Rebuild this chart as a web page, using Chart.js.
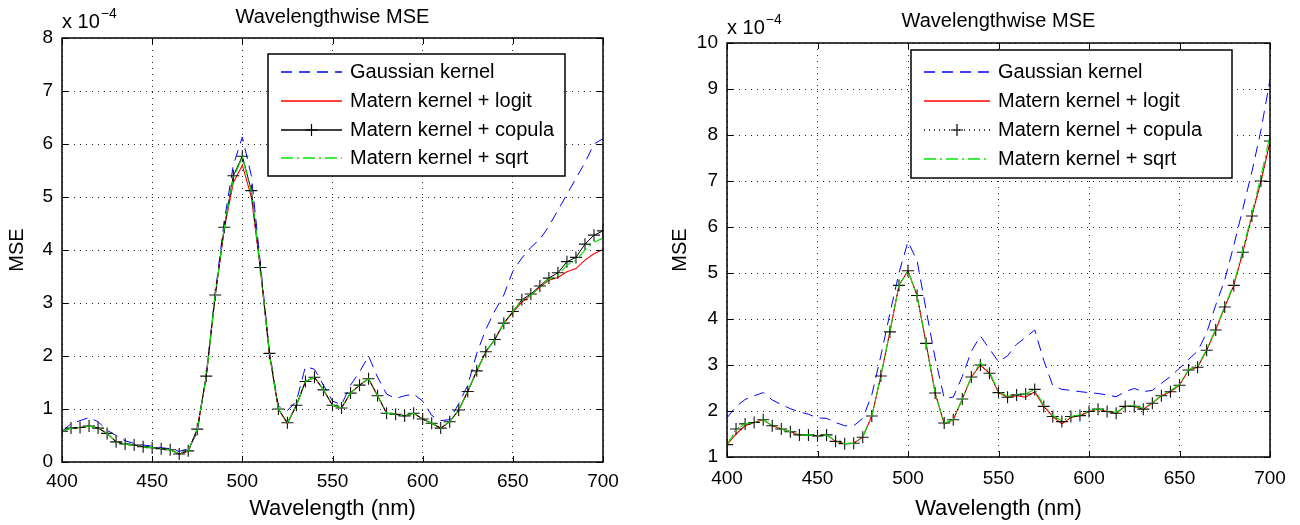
<!DOCTYPE html>
<html><head><meta charset="utf-8">
<script src="https://cdn.jsdelivr.net/npm/chart.js@4"></script>
<style>
body{margin:0;background:#fff;width:1300px;height:525px;overflow:hidden;position:relative}
canvas{position:absolute;top:0}
</style></head>
<body>
<canvas id="c1" width="650" height="525" style="left:0"></canvas>
<canvas id="c2" width="650" height="525" style="left:650px"></canvas>
<script>
// ---------- DATA (MSE in units of 1e-4) ----------
const wavelengths = [400,405,410,415,420,425,430,435,440,445,450,455,460,465,470,475,480,485,490,495,500,505,510,515,520,525,530,535,540,545,550,555,560,565,570,575,580,585,590,595,600,605,610,615,620,625,630,635,640,645,650,655,660,665,670,675,680,685,690,695,700];

const leftGaussian = [0.58,0.72,0.78,0.84,0.76,0.60,0.50,0.40,0.35,0.32,0.30,0.27,0.25,0.20,0.25,0.55,1.65,3.20,4.55,5.60,6.13,5.40,3.75,2.10,1.05,0.97,1.15,1.80,1.75,1.45,1.15,1.08,1.45,1.70,2.00,1.60,1.28,1.20,1.25,1.28,1.15,0.88,0.78,0.80,1.10,1.45,2.05,2.50,2.85,3.15,3.60,3.85,4.05,4.20,4.45,4.75,5.05,5.35,5.65,6.00,6.10];
const leftLogit    = [0.58,0.64,0.65,0.68,0.64,0.54,0.38,0.34,0.32,0.29,0.27,0.25,0.23,0.15,0.20,0.62,1.62,3.15,4.40,5.27,5.60,5.00,3.64,2.05,1.00,0.72,1.07,1.52,1.60,1.36,1.07,1.02,1.30,1.45,1.57,1.25,0.92,0.90,0.87,0.92,0.81,0.73,0.64,0.76,0.98,1.33,1.72,2.08,2.31,2.62,2.82,3.02,3.15,3.30,3.43,3.48,3.59,3.65,3.81,3.93,4.01];
const leftCopula   = [0.58,0.64,0.65,0.68,0.64,0.54,0.38,0.34,0.32,0.29,0.27,0.25,0.23,0.15,0.21,0.62,1.62,3.15,4.43,5.40,5.77,5.12,3.67,2.05,1.00,0.74,1.07,1.52,1.60,1.36,1.07,1.02,1.30,1.45,1.57,1.25,0.92,0.90,0.87,0.92,0.81,0.73,0.64,0.76,0.98,1.33,1.72,2.08,2.31,2.62,2.84,3.06,3.17,3.32,3.47,3.57,3.78,3.86,4.11,4.28,4.36];
const leftSqrt     = [0.58,0.64,0.65,0.68,0.64,0.54,0.38,0.34,0.32,0.29,0.27,0.25,0.23,0.15,0.21,0.62,1.62,3.15,4.43,5.35,5.75,5.10,3.66,2.05,1.00,0.74,1.07,1.52,1.60,1.36,1.07,1.02,1.30,1.45,1.57,1.25,0.92,0.90,0.87,0.92,0.81,0.73,0.64,0.76,0.98,1.33,1.72,2.08,2.31,2.62,2.84,3.05,3.15,3.30,3.45,3.52,3.72,3.80,4.00,4.15,4.22];

const rightGaussian = [1.85,2.10,2.25,2.33,2.40,2.24,2.14,2.05,1.98,1.93,1.85,1.84,1.75,1.68,1.68,1.84,2.35,3.20,4.12,5.00,5.68,5.27,4.20,3.15,2.28,2.30,2.75,3.30,3.63,3.35,3.07,3.20,3.45,3.60,3.76,3.10,2.55,2.47,2.45,2.42,2.40,2.38,2.35,2.31,2.42,2.49,2.42,2.45,2.60,2.75,2.93,3.12,3.30,3.70,4.30,4.85,5.60,6.40,7.20,8.10,9.20];
const rightLogit    = [1.27,1.50,1.68,1.75,1.81,1.68,1.61,1.55,1.48,1.48,1.46,1.48,1.34,1.29,1.30,1.43,1.89,2.76,3.72,4.73,5.05,4.51,3.47,2.39,1.72,1.81,2.26,2.74,3.00,2.82,2.40,2.30,2.33,2.30,2.42,2.10,1.88,1.72,1.86,1.90,1.99,2.04,1.99,1.95,2.10,2.10,2.04,2.17,2.33,2.42,2.56,2.89,2.95,3.32,3.76,4.26,4.73,5.45,6.24,7.00,7.85];
const rightCopula   = [1.27,1.61,1.72,1.75,1.81,1.68,1.61,1.55,1.48,1.48,1.46,1.48,1.34,1.29,1.30,1.43,1.89,2.76,3.72,4.73,5.05,4.51,3.47,2.39,1.74,1.81,2.26,2.74,3.00,2.82,2.40,2.30,2.35,2.37,2.47,2.10,1.88,1.77,1.88,1.90,1.99,2.04,1.99,1.95,2.10,2.10,2.04,2.17,2.33,2.42,2.56,2.89,2.95,3.32,3.76,4.26,4.73,5.45,6.24,7.00,7.87];
const rightSqrt     = [1.27,1.58,1.72,1.75,1.81,1.68,1.61,1.55,1.48,1.48,1.46,1.48,1.34,1.29,1.30,1.43,1.89,2.76,3.72,4.73,5.05,4.51,3.47,2.39,1.74,1.81,2.26,2.74,3.05,2.85,2.42,2.32,2.36,2.37,2.47,2.12,1.90,1.79,1.88,1.92,2.00,2.05,2.00,1.97,2.10,2.12,2.06,2.18,2.34,2.44,2.58,2.90,2.97,3.34,3.78,4.28,4.76,5.50,6.30,7.10,8.00];

const xTicks = [400,450,500,550,600,650,700];
const leftYTicks = [0,1,2,3,4,5,6,7,8];
const rightYTicks = [1,2,3,4,5,6,7,8,9,10];
const seriesNames = ['Gaussian kernel','Matern kernel + logit','Matern kernel + copula','Matern kernel + sqrt'];
const titleText = 'Wavelengthwise MSE';
const xLabel = 'Wavelength (nm)';
const yLabel = 'MSE';

// ---------- STYLE ----------
const FONT = '"Liberation Sans", Arial, Helvetica, sans-serif';
const BLUE = '#0000ff', RED = '#ff0000', BLACK = '#000000', GREEN = '#00e600';

function pts(vals){ return wavelengths.map((w,i)=>({x:w, y:vals[i]})); }

const matlabPlugin = {
  id: 'matlab',
  afterDraw(chart, args, o) {
    const ctx = chart.ctx, ca = chart.chartArea;
    const xs = chart.scales.x, ys = chart.scales.y;
    ctx.save();
    // box
    ctx.strokeStyle = '#000'; ctx.lineWidth = 1.5; ctx.setLineDash([]);
    ctx.strokeRect(ca.left, ca.top, ca.right - ca.left, ca.bottom - ca.top);
    // inward ticks
    ctx.lineWidth = 1;
    const tl = 6;
    ctx.beginPath();
    xs.ticks.forEach(t => { const px = Math.round(xs.getPixelForValue(t.value)) + 0.5;
      ctx.moveTo(px, ca.bottom); ctx.lineTo(px, ca.bottom - tl);
      ctx.moveTo(px, ca.top); ctx.lineTo(px, ca.top + tl); });
    ys.ticks.forEach(t => { const py = Math.round(ys.getPixelForValue(t.value)) + 0.5;
      ctx.moveTo(ca.left, py); ctx.lineTo(ca.left + tl, py);
      ctx.moveTo(ca.right, py); ctx.lineTo(ca.right - tl, py); });
    ctx.stroke();
    // title
    ctx.fillStyle = '#000';
    ctx.font = '20px ' + FONT;
    ctx.textAlign = 'center'; ctx.textBaseline = 'alphabetic';
    ctx.fillText(o.title, (ca.left + ca.right) / 2, o.titleY);
    // exponent
    ctx.textAlign = 'left';
    ctx.font = '20px ' + FONT;
    const base = 'x 10';
    ctx.fillText(base, ca.left, o.expY);
    const w = ctx.measureText(base).width;
    ctx.font = '14px ' + FONT;
    ctx.fillText('\u22124', ca.left + w + 1, o.expY - 10);
    // legend
    const L = o.legend;
    ctx.fillStyle = '#fff';
    ctx.fillRect(L.x, L.y, L.w, L.h);
    ctx.strokeStyle = '#000'; ctx.lineWidth = 1.5;
    ctx.strokeRect(L.x, L.y, L.w, L.h);
    ctx.font = '20px ' + FONT;
    ctx.textBaseline = 'middle';
    L.items.forEach((it, i) => {
      const y = L.rowY[i];
      ctx.strokeStyle = it.color; ctx.lineWidth = 1.3;
      ctx.setLineDash(it.dash);
      ctx.beginPath(); ctx.moveTo(L.lx1, y); ctx.lineTo(L.lx2, y); ctx.stroke();
      ctx.setLineDash([]);
      if (it.marker) {
        const mx = (L.lx1 + L.lx2) / 2;
        ctx.strokeStyle = '#000'; ctx.lineWidth = 1.2;
        ctx.beginPath(); ctx.moveTo(mx - 6, y); ctx.lineTo(mx + 6, y);
        ctx.moveTo(mx, y - 6); ctx.lineTo(mx, y + 6); ctx.stroke();
      }
      ctx.fillStyle = '#000';
      ctx.fillText(seriesNames[i], L.tx, y);
    });
    ctx.restore();
  }
};

function makeChart(id, data, yTicks, ymin, ymax, geom, copulaDash) {
  const [g, l, c, s] = data;
  return new Chart(document.getElementById(id), {
    type: 'line',
    data: { datasets: [
      { label: seriesNames[0], data: pts(g), borderColor: BLUE, borderWidth: 1, borderDash: [11,7], pointRadius: 0, order: 4 },
      { label: seriesNames[1], data: pts(l), borderColor: RED, borderWidth: 1.1, pointRadius: 0, order: 3 },
      { label: seriesNames[2], data: pts(c), borderColor: BLACK, borderWidth: 1, borderDash: copulaDash,
        pointStyle: 'cross', pointRadius: 6, pointBorderColor: '#111', pointBorderWidth: 1.1, order: 2 },
      { label: seriesNames[3], data: pts(s), borderColor: GREEN, borderWidth: 1.1, borderDash: [12,4,2,4], pointRadius: 0, order: 1 }
    ]},
    options: {
      responsive: false, animation: false, devicePixelRatio: 1,
      layout: { padding: { left: 0, right: geom.padRight, top: geom.padTop, bottom: 0 } },
      plugins: { legend: { display: false }, tooltip: { enabled: false }, title: { display: false },
        matlab: geom.matlab },
      elements: { line: { tension: 0 } },
      scales: {
        x: { type: 'linear', min: 400, max: 700,
          afterBuildTicks: sc => { sc.ticks = xTicks.map(v => ({ value: v })); },
          afterFit: sc => { sc.height = geom.xHeight; },
          ticks: { color: '#000', font: { family: FONT, size: 19 }, padding: geom.xTickPad, maxRotation: 0, autoSkip: false },
          grid: { color: 'rgba(0,0,0,0.85)', lineWidth: 1, drawTicks: false },
          border: { display: false, dash: [1,5] },
          title: { display: true, text: xLabel, color: '#000', font: { family: FONT, size: 22 }, padding: { top: 0, bottom: 3 } }
        },
        y: { type: 'linear', min: ymin, max: ymax,
          afterBuildTicks: sc => { sc.ticks = yTicks.map(v => ({ value: v })); },
          afterFit: sc => { sc.width = geom.yWidth; },
          ticks: { color: '#000', font: { family: FONT, size: 19 }, padding: 9, autoSkip: false },
          grid: { color: 'rgba(0,0,0,0.85)', lineWidth: 1, drawTicks: false },
          border: { display: false, dash: [1,5] },
          title: { display: true, text: yLabel, color: '#000', font: { family: FONT, size: 20 }, padding: { top: geom.yTitlePad, bottom: 0 } }
        }
      }
    },
    plugins: [matlabPlugin]
  });
}

makeChart('c1', [leftGaussian, leftLogit, leftCopula, leftSqrt], leftYTicks, 0, 8, {
  padRight: 47, padTop: 38, xHeight: 63, yWidth: 62, xTickPad: 8, yTitlePad: 5,
  matlab: { title: titleText, titleY: 23, expY: 28,
    legend: { x: 268, y: 54, w: 297, h: 122, lx1: 281, lx2: 342, tx: 350, rowY: [72, 101, 130, 158],
      items: [ { color: BLUE, dash: [11,7] }, { color: RED, dash: [] }, { color: BLACK, dash: [], marker: true }, { color: GREEN, dash: [12,4,2,4] } ] } }
}, []);

makeChart('c2', [rightGaussian, rightLogit, rightCopula, rightSqrt], rightYTicks, 1, 10, {
  padRight: 30, padTop: 43, xHeight: 68, yWidth: 77, xTickPad: 10, yTitlePad: 18,
  matlab: { title: titleText, titleY: 27, expY: 34,
    legend: { x: 261, y: 50, w: 321, h: 128, lx1: 274, lx2: 340, tx: 348, rowY: [72, 101, 130, 159],
      items: [ { color: BLUE, dash: [11,7] }, { color: RED, dash: [] }, { color: BLACK, dash: [1,4], marker: true }, { color: GREEN, dash: [12,4,2,4] } ] } }
}, [1,4]);
</script>
</body></html>
